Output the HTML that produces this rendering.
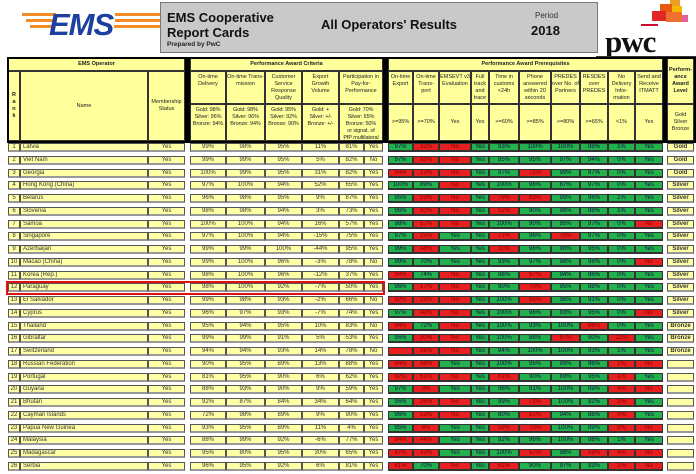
<!DOCTYPE html>
<html><head><meta charset="utf-8"><style>
*{margin:0;padding:0;box-sizing:border-box}
body{width:696px;height:474px;background:#fff;position:relative;overflow:hidden;font-family:"Liberation Sans",sans-serif;color:#222}
.a{position:absolute}
.h{position:absolute;border:1px solid #333;background:#ffff9c;display:flex;align-items:center;justify-content:center;text-align:center;font-size:5.5px;line-height:7px;white-space:normal}
.t{align-items:flex-start;padding-top:2px}
.nw{white-space:nowrap;letter-spacing:-0.1px}
.bar{position:absolute;background:#000}
.row{position:absolute;left:8px;height:9px;display:grid;grid-template-columns:12px 128px 37px 5px 36px 39px 37px 37px 25px 19px 5px 25px 26px 32px 18px 30px 32px 29px 28px 27px 28px 4px 27px}
.row i{font-style:normal;display:block;border:1px solid #555;border-bottom:2px solid #999;background:#ffffa6;font-size:6px;line-height:6px;text-align:center;overflow:hidden;white-space:nowrap;color:#333}
.row i.n{text-align:left;padding-left:2px}
.row i.g{background:#22b14c;color:#114;border-color:#333}
.row i.r{background:#e5201f;color:#8a0000;border-color:#333}
.row i.w{font-weight:bold}
.row s{display:block}
</style></head><body>
<!-- EMS logo -->
<div class="a" style="left:22px;top:13px;width:34px;height:3px;background:#f28c28"></div>
<div class="a" style="left:26px;top:19px;width:30px;height:3px;background:#f28c28"></div>
<div class="a" style="left:30px;top:25px;width:24px;height:3px;background:#f28c28"></div>
<div class="a" style="left:115px;top:13px;width:45px;height:3px;background:#f28c28"></div>
<div class="a" style="left:115px;top:19px;width:45px;height:3px;background:#f28c28"></div>
<div class="a" style="left:114px;top:25px;width:46px;height:3px;background:#f28c28"></div>
<div class="a" style="left:49px;top:7px;font:italic bold 31px 'Liberation Sans',sans-serif;color:#1d3fa0;letter-spacing:-1px">EMS</div>
<!-- title box -->
<div class="a" style="left:160px;top:2px;width:438px;height:51px;background:#c9c9c9;border:1px solid #777"></div>
<div class="a" style="left:167px;top:10px;font-weight:bold;font-size:13px;line-height:15px;color:#111">EMS Cooperative<br>Report Cards</div>
<div class="a" style="left:167px;top:41px;font-weight:bold;font-size:6.5px;color:#222">Prepared by PwC</div>
<div class="a" style="left:321px;top:17px;font-weight:bold;font-size:13px;color:#111">All Operators' Results</div>
<div class="a" style="left:535px;top:11px;font-size:8px;color:#333">Period</div>
<div class="a" style="left:531px;top:23px;font-weight:bold;font-size:13px;color:#111">2018</div>
<!-- pwc logo -->
<div class="a" style="left:670px;top:0;width:10px;height:6px;background:#f0a020"></div>
<div class="a" style="left:660px;top:4px;width:12px;height:8px;background:#e85a10"></div>
<div class="a" style="left:672px;top:6px;width:10px;height:8px;background:#f5b800"></div>
<div class="a" style="left:652px;top:11px;width:14px;height:10px;background:#e02828"></div>
<div class="a" style="left:666px;top:12px;width:16px;height:10px;background:#f07030"></div>
<div class="a" style="left:682px;top:15px;width:6px;height:7px;background:#e060a0"></div>
<div class="a" style="left:641px;top:24px;width:17px;height:2px;background:#c8102e"></div>
<div class="a" style="left:605px;top:24px;font:bold 31px 'Liberation Serif',serif;color:#111;letter-spacing:-1px">pwc</div>
<div class="a" style="left:596px;top:56px;width:100px;height:1px;background:#333"></div>
<!-- header -->
<div class="h" style="left:8px;top:58px;width:177px;height:13px;font-weight:bold">EMS Operator</div>
<div class="h" style="left:190px;top:58px;width:193px;height:13px;font-weight:bold">Performance Award Criteria</div>
<div class="h" style="left:388px;top:58px;width:275px;height:13px;font-weight:bold">Performance Award Prerequisites</div>
<div class="h" style="left:8px;top:71px;width:12px;height:70px;font-weight:bold">R<br>a<br>n<br>k</div>
<div class="h" style="left:20px;top:71px;width:128px;height:70px">Name</div>
<div class="h" style="left:148px;top:71px;width:37px;height:70px">Membership Status</div>
<div class="h t" style="left:190px;top:71px;width:36px;height:33px">On-time Delivery</div>
<div class="h t" style="left:226px;top:71px;width:39px;height:33px">On-time Trans-<br>mission</div>
<div class="h t" style="left:265px;top:71px;width:37px;height:33px">Customer Service Response Quality</div>
<div class="h t" style="left:302px;top:71px;width:37px;height:33px">Export Growth Volume</div>
<div class="h t" style="left:339px;top:71px;width:44px;height:33px">Participation in Pay-for-Performance</div>
<div class="h t nw" style="left:190px;top:104px;width:36px;height:37px">Gold: 98%<br>Silver: 96%<br>Bronze: 94%</div>
<div class="h t nw" style="left:226px;top:104px;width:39px;height:37px">Gold: 98%<br>Silver: 96%<br>Bronze: 94%</div>
<div class="h t nw" style="left:265px;top:104px;width:37px;height:37px">Gold: 95%<br>Silver: 92%<br>Bronze: 90%</div>
<div class="h t nw" style="left:302px;top:104px;width:37px;height:37px">Gold: +<br>Silver: +/-<br>Bronze: +/-</div>
<div class="h t nw" style="left:339px;top:104px;width:44px;height:37px">Gold: 70%<br>Silver: 65%<br>Bronze: 50%<br>or signat. of<br>PfP multilateral</div>
<div class="h t" style="left:388px;top:71px;width:25px;height:33px">On-time Export</div>
<div class="h t" style="left:413px;top:71px;width:26px;height:33px">On-time Trans-<br>port</div>
<div class="h t" style="left:439px;top:71px;width:32px;height:33px">EMSEVT v3 Evaluation</div>
<div class="h t" style="left:471px;top:71px;width:18px;height:33px">Full track and trace</div>
<div class="h t" style="left:489px;top:71px;width:30px;height:33px">Time in customs &lt;24h</div>
<div class="h t" style="left:519px;top:71px;width:32px;height:33px">Phone answered within 20 seconds</div>
<div class="h t" style="left:551px;top:71px;width:29px;height:33px">PREDES over No. of Partners</div>
<div class="h t" style="left:580px;top:71px;width:28px;height:33px">RESDES over PREDES</div>
<div class="h t" style="left:608px;top:71px;width:27px;height:33px">No Delivery Infor-<br>mation</div>
<div class="h t" style="left:635px;top:71px;width:28px;height:33px">Send and Receive ITMATT</div>
<div class="h" style="left:388px;top:104px;width:25px;height:37px">&gt;=95%</div>
<div class="h" style="left:413px;top:104px;width:26px;height:37px">&gt;=70%</div>
<div class="h" style="left:439px;top:104px;width:32px;height:37px">Yes</div>
<div class="h" style="left:471px;top:104px;width:18px;height:37px">Yes</div>
<div class="h" style="left:489px;top:104px;width:30px;height:37px">&gt;=60%</div>
<div class="h" style="left:519px;top:104px;width:32px;height:37px">&gt;=85%</div>
<div class="h" style="left:551px;top:104px;width:29px;height:37px">&gt;=80%</div>
<div class="h" style="left:580px;top:104px;width:28px;height:37px">&gt;=65%</div>
<div class="h" style="left:608px;top:104px;width:27px;height:37px">&lt;1%</div>
<div class="h" style="left:635px;top:104px;width:28px;height:37px">Yes</div>
<div class="h" style="left:667px;top:58px;width:27px;height:46px;font-weight:bold">Perform-<br>ance<br>Award<br>Level</div>
<div class="h" style="left:667px;top:104px;width:27px;height:37px">Gold<br>Silver<br>Bronze</div>
<div class="bar" style="left:185px;top:58px;width:5px;height:84px"></div>
<div class="bar" style="left:383px;top:58px;width:5px;height:84px"></div>
<div class="bar" style="left:663px;top:58px;width:4px;height:84px"></div>
<div class="a" style="left:7px;top:57px;width:689px;height:86px;border:2px solid #000"></div>
<!-- rows -->
<div class="row" style="top:143px"><i>1</i><i class="n">Latvia</i><i>Yes</i><s></s><i>99%</i><i>98%</i><i>95%</i><i>11%</i><i>81%</i><i>Yes</i><s></s><i class="g">97%</i><i class="r">32%</i><i class="r">No</i><i class="g">Yes</i><i class="g">93%</i><i class="g">100%</i><i class="g">100%</i><i class="g">98%</i><i class="g">1%</i><i class="g">Yes</i><s></s><i class="w">Gold</i></div>
<div class="row" style="top:155.75px"><i>2</i><i class="n">Viet Nam</i><i>Yes</i><s></s><i>99%</i><i>99%</i><i>95%</i><i>5%</i><i>82%</i><i>No</i><s></s><i class="g">97%</i><i class="r">88%</i><i class="r">No</i><i class="g">Yes</i><i class="g">85%</i><i class="g">95%</i><i class="g">97%</i><i class="g">94%</i><i class="g">0%</i><i class="g">Yes</i><s></s><i class="w">Gold</i></div>
<div class="row" style="top:168.5px"><i>3</i><i class="n">Georgia</i><i>Yes</i><s></s><i>100%</i><i>99%</i><i>95%</i><i>31%</i><i>82%</i><i>Yes</i><s></s><i class="r">94%</i><i class="r">13%</i><i class="r">No</i><i class="g">Yes</i><i class="g">97%</i><i class="r">72%</i><i class="g">99%</i><i class="g">97%</i><i class="g">0%</i><i class="g">Yes</i><s></s><i class="w">Gold</i></div>
<div class="row" style="top:181.25px"><i>4</i><i class="n">Hong Kong (China)</i><i>Yes</i><s></s><i>97%</i><i>100%</i><i>94%</i><i>52%</i><i>65%</i><i>Yes</i><s></s><i class="g">100%</i><i class="g">89%</i><i class="r">No</i><i class="g">Yes</i><i class="g">100%</i><i class="g">96%</i><i class="g">87%</i><i class="g">97%</i><i class="g">0%</i><i class="g">Yes</i><s></s><i class="w">Silver</i></div>
<div class="row" style="top:194px"><i>5</i><i class="n">Belarus</i><i>Yes</i><s></s><i>96%</i><i>98%</i><i>95%</i><i>9%</i><i>87%</i><i>Yes</i><s></s><i class="g">95%</i><i class="r">53%</i><i class="r">No</i><i class="g">Yes</i><i class="r">79%</i><i class="r">83%</i><i class="g">99%</i><i class="g">96%</i><i class="g">1%</i><i class="g">Yes</i><s></s><i class="w">Silver</i></div>
<div class="row" style="top:206.75px"><i>6</i><i class="n">Slovenia</i><i>Yes</i><s></s><i>98%</i><i>98%</i><i>94%</i><i>3%</i><i>73%</i><i>Yes</i><s></s><i class="g">96%</i><i class="r">60%</i><i class="r">No</i><i class="g">Yes</i><i class="r">52%</i><i class="g">90%</i><i class="g">98%</i><i class="g">98%</i><i class="g">1%</i><i class="g">Yes</i><s></s><i class="w">Silver</i></div>
<div class="row" style="top:219.5px"><i>7</i><i class="n">Samoa</i><i>Yes</i><s></s><i>100%</i><i>100%</i><i>94%</i><i>16%</i><i>57%</i><i>Yes</i><s></s><i class="g">98%</i><i class="r">57%</i><i class="r">No</i><i class="g">Yes</i><i class="g">100%</i><i class="g">90%</i><i class="g">95%</i><i class="g">97%</i><i class="g">0%</i><i class="r">No</i><s></s><i class="w">Silver</i></div>
<div class="row" style="top:232.25px"><i>8</i><i class="n">Singapore</i><i>Yes</i><s></s><i>97%</i><i>100%</i><i>94%</i><i>-15%</i><i>75%</i><i>Yes</i><s></s><i class="g">97%</i><i class="r">25%</i><i class="g">Yes</i><i class="g">Yes</i><i class="r">72%</i><i class="g">96%</i><i class="r">78%</i><i class="g">97%</i><i class="g">0%</i><i class="g">Yes</i><s></s><i class="w">Silver</i></div>
<div class="row" style="top:245px"><i>9</i><i class="n">Azerbaijan</i><i>Yes</i><s></s><i>99%</i><i>99%</i><i>100%</i><i>-44%</i><i>95%</i><i>Yes</i><s></s><i class="g">99%</i><i class="r">48%</i><i class="g">Yes</i><i class="g">Yes</i><i class="r">10%</i><i class="g">96%</i><i class="g">98%</i><i class="g">95%</i><i class="g">0%</i><i class="g">Yes</i><s></s><i class="w">Silver</i></div>
<div class="row" style="top:257.75px"><i>10</i><i class="n">Macao (China)</i><i>Yes</i><s></s><i>99%</i><i>100%</i><i>96%</i><i>-3%</i><i>78%</i><i>No</i><s></s><i class="g">99%</i><i class="g">70%</i><i class="g">Yes</i><i class="g">Yes</i><i class="g">93%</i><i class="g">97%</i><i class="g">98%</i><i class="g">98%</i><i class="g">0%</i><i class="r">No</i><s></s><i class="w">Silver</i></div>
<div class="row" style="top:270.5px"><i>11</i><i class="n">Korea (Rep.)</i><i>Yes</i><s></s><i>98%</i><i>100%</i><i>96%</i><i>-12%</i><i>37%</i><i>Yes</i><s></s><i class="r">94%</i><i class="g">74%</i><i class="r">No</i><i class="g">Yes</i><i class="g">98%</i><i class="r">87%</i><i class="g">94%</i><i class="g">96%</i><i class="g">0%</i><i class="g">Yes</i><s></s><i class="w">Silver</i></div>
<div class="row" style="top:283.25px"><i>12</i><i class="n">Paraguay</i><i>Yes</i><s></s><i>98%</i><i>100%</i><i>92%</i><i>-7%</i><i>50%</i><i>Yes</i><s></s><i class="g">96%</i><i class="r">17%</i><i class="r">No</i><i class="g">Yes</i><i class="g">90%</i><i class="r">70%</i><i class="g">95%</i><i class="g">88%</i><i class="g">0%</i><i class="g">Yes</i><s></s><i class="w">Silver</i></div>
<div class="row" style="top:296px"><i>13</i><i class="n">El Salvador</i><i>Yes</i><s></s><i>99%</i><i>98%</i><i>93%</i><i>-2%</i><i>66%</i><i>No</i><s></s><i class="r">92%</i><i class="r">29%</i><i class="r">No</i><i class="g">Yes</i><i class="g">100%</i><i class="r">86%</i><i class="g">96%</i><i class="g">91%</i><i class="g">0%</i><i class="g">Yes</i><s></s><i class="w">Silver</i></div>
<div class="row" style="top:308.75px"><i>14</i><i class="n">Cyprus</i><i>Yes</i><s></s><i>96%</i><i>97%</i><i>93%</i><i>-7%</i><i>74%</i><i>Yes</i><s></s><i class="g">97%</i><i class="r">40%</i><i class="r">No</i><i class="g">Yes</i><i class="g">100%</i><i class="g">96%</i><i class="g">93%</i><i class="g">95%</i><i class="g">0%</i><i class="r">No</i><s></s><i class="w">Silver</i></div>
<div class="row" style="top:321.5px"><i>15</i><i class="n">Thailand</i><i>Yes</i><s></s><i>95%</i><i>94%</i><i>95%</i><i>10%</i><i>83%</i><i>No</i><s></s><i class="r">94%</i><i class="g">72%</i><i class="r">No</i><i class="g">Yes</i><i class="g">100%</i><i class="g">93%</i><i class="g">100%</i><i class="r">88%</i><i class="g">0%</i><i class="g">Yes</i><s></s><i class="w">Bronze</i></div>
<div class="row" style="top:334.25px"><i>16</i><i class="n">Gibraltar</i><i>Yes</i><s></s><i>99%</i><i>99%</i><i>91%</i><i>5%</i><i>53%</i><i>Yes</i><s></s><i class="g">95%</i><i class="r">30%</i><i class="r">No</i><i class="g">Yes</i><i class="g">100%</i><i class="g">88%</i><i class="r">67%</i><i class="g">90%</i><i class="r">12%</i><i class="g">Yes</i><s></s><i class="w">Bronze</i></div>
<div class="row" style="top:347px"><i>17</i><i class="n">Switzerland</i><i>Yes</i><s></s><i>94%</i><i>94%</i><i>93%</i><i>14%</i><i>78%</i><i>No</i><s></s><i class="r"></i><i class="r">56%</i><i class="r">No</i><i class="g">Yes</i><i class="g">94%</i><i class="g">100%</i><i class="g">100%</i><i class="g">93%</i><i class="g">1%</i><i class="g">Yes</i><s></s><i class="w">Bronze</i></div>
<div class="row" style="top:359.75px"><i>18</i><i class="n">Russian Federation</i><i>Yes</i><s></s><i>90%</i><i>95%</i><i>89%</i><i>13%</i><i>88%</i><i>Yes</i><s></s><i class="r">94%</i><i class="r">48%</i><i class="g">Yes</i><i class="g">Yes</i><i class="g">100%</i><i class="g">95%</i><i class="g">99%</i><i class="g">96%</i><i class="r">1%</i><i class="r">No</i><s></s><i></i></div>
<div class="row" style="top:372.5px"><i>19</i><i class="n">Portugal</i><i>Yes</i><s></s><i>81%</i><i>95%</i><i>90%</i><i>6%</i><i>62%</i><i>Yes</i><s></s><i class="r">92%</i><i class="r">61%</i><i class="r">No</i><i class="g">Yes</i><i class="r">61%</i><i class="g">90%</i><i class="g">89%</i><i class="g">95%</i><i class="r">1%</i><i class="g">Yes</i><s></s><i></i></div>
<div class="row" style="top:385.25px"><i>20</i><i class="n">Guyana</i><i>Yes</i><s></s><i>88%</i><i>93%</i><i>90%</i><i>9%</i><i>59%</i><i>Yes</i><s></s><i class="g">97%</i><i class="r">3%</i><i class="g">Yes</i><i class="g">Yes</i><i class="g">96%</i><i class="g">91%</i><i class="g">100%</i><i class="g">89%</i><i class="r">4%</i><i class="r">No</i><s></s><i></i></div>
<div class="row" style="top:398px"><i>21</i><i class="n">Bhutan</i><i>Yes</i><s></s><i>92%</i><i>87%</i><i>84%</i><i>34%</i><i>64%</i><i>Yes</i><s></s><i class="g">95%</i><i class="r">26%</i><i class="r">No</i><i class="g">Yes</i><i class="g">99%</i><i class="r">72%</i><i class="g">100%</i><i class="g">92%</i><i class="r">2%</i><i class="g">Yes</i><s></s><i></i></div>
<div class="row" style="top:410.75px"><i>22</i><i class="n">Cayman Islands</i><i>Yes</i><s></s><i>72%</i><i>98%</i><i>89%</i><i>9%</i><i>90%</i><i>Yes</i><s></s><i class="g">96%</i><i class="r">53%</i><i class="r">No</i><i class="g">Yes</i><i class="g">80%</i><i class="r">81%</i><i class="g">94%</i><i class="g">86%</i><i class="r">0%</i><i class="g">Yes</i><s></s><i></i></div>
<div class="row" style="top:423.5px"><i>23</i><i class="n">Papua New Guinea</i><i>Yes</i><s></s><i>93%</i><i>95%</i><i>89%</i><i>11%</i><i>4%</i><i>Yes</i><s></s><i class="g">95%</i><i class="r">8%</i><i class="g">Yes</i><i class="g">Yes</i><i class="r">59%</i><i class="r">70%</i><i class="g">100%</i><i class="g">89%</i><i class="r">8%</i><i class="r">No</i><s></s><i></i></div>
<div class="row" style="top:436.25px"><i>24</i><i class="n">Malaysia</i><i>Yes</i><s></s><i>88%</i><i>99%</i><i>92%</i><i>-6%</i><i>77%</i><i>Yes</i><s></s><i class="r">94%</i><i class="r">44%</i><i class="g">Yes</i><i class="g">Yes</i><i class="g">82%</i><i class="g">96%</i><i class="g">100%</i><i class="g">98%</i><i class="g">1%</i><i class="g">Yes</i><s></s><i></i></div>
<div class="row" style="top:449px"><i>25</i><i class="n">Madagascar</i><i>Yes</i><s></s><i>95%</i><i>80%</i><i>95%</i><i>30%</i><i>65%</i><i>Yes</i><s></s><i class="r">87%</i><i class="r">33%</i><i class="g">Yes</i><i class="g">Yes</i><i class="g">100%</i><i class="r">57%</i><i class="g">98%</i><i class="r">58%</i><i class="r">4%</i><i class="r">No</i><s></s><i></i></div>
<div class="row" style="top:461.75px"><i>26</i><i class="n">Serbia</i><i>Yes</i><s></s><i>96%</i><i>95%</i><i>92%</i><i>6%</i><i>81%</i><i>Yes</i><s></s><i class="r">81%</i><i class="g">70%</i><i class="r">No</i><i class="g">Yes</i><i class="r">61%</i><i class="g">90%</i><i class="g">97%</i><i class="g">93%</i><i class="r">1%</i><i class="r">No</i><s></s><i></i></div>
<!-- Paraguay highlight -->
<div class="a" style="left:6px;top:281px;width:379px;height:14px;border:2px solid #e01010"></div>
</body></html>
